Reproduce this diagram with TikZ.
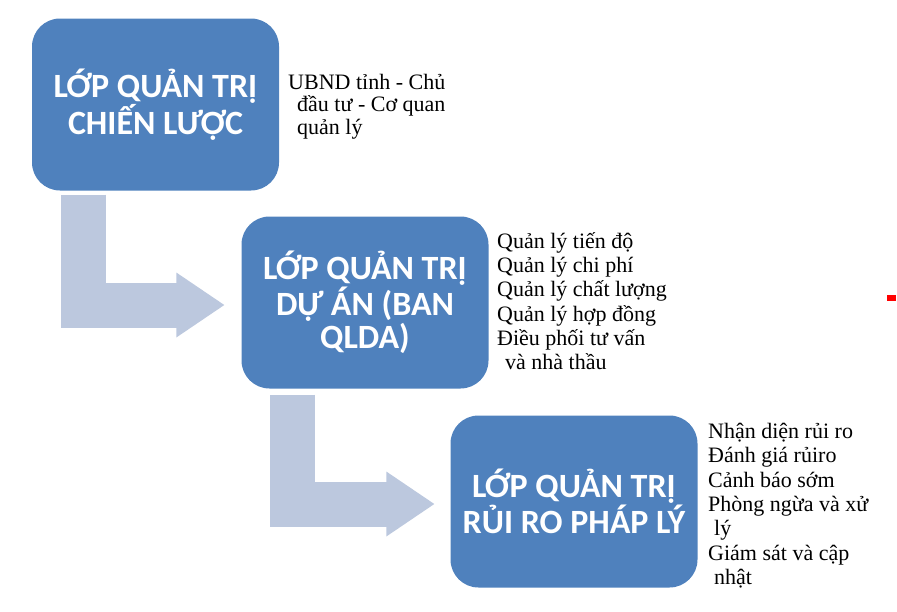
\documentclass[tikz,border=0pt]{standalone}
\usepackage{fontspec}
\setmainfont{Liberation Serif}
\newfontfamily\boxfont{Carlito}
\usetikzlibrary{arrows.meta}
\definecolor{boxblue}{HTML}{4F81BD}
\definecolor{arrowblue}{HTML}{BCC8DE}
\tikzset{
  layerbox/.style={rectangle, rounded corners=28pt, fill=boxblue, draw=none,
    minimum width=247pt, minimum height=172pt, align=center, text=white,
    font=\boxfont\bfseries\fontsize{34}{33}\selectfont},
  bentshaft/.style={draw=arrowblue, line width=45pt, line join=miter, line cap=butt},
  arrowhead/.style={fill=arrowblue, draw=none},
  notes/.style={anchor=north west, inner sep=0pt, align=left, text=black,
    font=\fontsize{22}{24.3}\selectfont}
}
\begin{document}
\begin{tikzpicture}[x=1pt,y=-1pt]
\useasboundingbox (0,0) rectangle (897,611);
\node[layerbox] (b1) at (155.5,104.5) {LỚP QUẢN TRỊ\\CHIẾN LƯỢC};
\node[layerbox] (b2) at (365,302.5) {LỚP QUẢN TRỊ\\DỰ ÁN (BAN\\QLDA)};
\node[layerbox] (b3) at (574,501.5) {LỚP QUẢN TRỊ\\RỦI RO PHÁP LÝ};
% bent arrow 1
\coordinate (a1s) at ([xshift=51.5pt,yshift=-4pt]b1.south west);
\coordinate (a1e) at ([xshift=-17pt,yshift=-2.5pt]b2.west);
\draw[bentshaft] (a1s) |- ([xshift=-44pt]a1e);
\fill[arrowhead] (a1e) -- ++(-48,32.5) -- ++(0,-65) -- cycle;
% bent arrow 2
\coordinate (a2s) at ([xshift=51pt,yshift=-6pt]b2.south west);
\coordinate (a2e) at ([xshift=-16pt,yshift=-2.5pt]b3.west);
\draw[bentshaft] (a2s) |- ([xshift=-44pt]a2e);
\fill[arrowhead] (a2e) -- ++(-48,32.5) -- ++(0,-65) -- cycle;
\node[notes, font=\fontsize{22}{22.5}\selectfont] (t1) at (288,74) {UBND tỉnh - Chủ\\\hspace*{9pt}đầu tư - Cơ quan\\\hspace*{9pt}quản lý};
\node[notes] (t2) at (497,232) {Quản lý tiến độ\\Quản lý chi phí\\Quản lý chất lượng\\Quản lý hợp đồng\\Điều phối tư vấn\\\hspace*{8pt}và nhà thầu};
\node[notes] (t3) at (708,423) {Nhận diện rủi ro\\Đánh giá rủiro\\Cảnh báo sớm\\Phòng ngừa và xử\\\hspace*{6pt}lý\\Giám sát và cập\\\hspace*{6pt}nhật};
\fill[red] (887,295) rectangle (896,301);
\end{tikzpicture}
\end{document}
